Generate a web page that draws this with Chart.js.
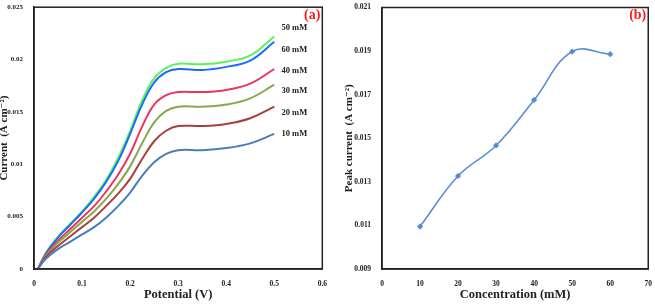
<html>
  <head>
    <script src="https://cdn.jsdelivr.net/npm/chart.js@4.4.0/dist/chart.umd.min.js"></script>
    <style>
      body { margin: 0; background: #fff; }
      .panel { position: absolute; top: 0; }
    </style>
  </head>
  <body>
    <div class="panel" style="left: 0"><canvas id="cvA" width="330" height="305"></canvas></div>
    <div class="panel" style="left: 330px"><canvas id="cvB" width="325" height="305"></canvas></div>
    <script>
      // panel (a): current vs potential
      var potential = [0.008, 0.025, 0.05, 0.075, 0.1, 0.125, 0.15, 0.175, 0.2, 0.225, 0.25, 0.275, 0.3, 0.35, 0.4, 0.45, 0.5];
      var cur10 = [0, 1.0, 1.9, 2.6, 3.3, 4.0, 4.9, 6.0, 7.3, 8.9, 10.2, 11.0, 11.35, 11.35, 11.55, 12.0, 12.9];
      var cur20 = [0, 1.15, 2.2, 3.1, 4.0, 4.9, 6.0, 7.2, 8.6, 10.5, 12.2, 13.2, 13.65, 13.65, 13.85, 14.4, 15.5];
      var cur30 = [0, 1.25, 2.5, 3.5, 4.5, 5.5, 6.7, 8.1, 9.8, 12.0, 14.0, 15.1, 15.5, 15.5, 15.7, 16.3, 17.6];
      var cur40 = [0, 1.35, 2.7, 3.8, 4.9, 6.0, 7.4, 9.0, 11.0, 13.6, 15.7, 16.6, 16.9, 16.9, 17.1, 17.7, 19.1];
      var cur60 = [0, 1.5, 3.0, 4.2, 5.4, 6.7, 8.3, 10.3, 12.9, 15.7, 17.8, 18.8, 19.1, 19.0, 19.3, 19.9, 21.7];
      var cur50 = [0, 1.55, 3.1, 4.3, 5.5, 6.9, 8.5, 10.6, 13.2, 16.1, 18.2, 19.2, 19.6, 19.55, 19.8, 20.4, 22.2];
      var seriesNames = ['10 mM', '20 mM', '30 mM', '40 mM', '60 mM', '50 mM'];
      var seriesColors = ['#4a7dbd', '#a8403e', '#87a94b', '#ee3462', '#1b6bff', '#5cf25c'];
      // label anchors (in data units) for the series names on the right
      var labelX = 0.515;
      var labelY = [0.0129, 0.0149, 0.0170, 0.0189, 0.0209, 0.0230];
      var xTicksA = ['0', '0.1', '0.2', '0.3', '0.4', '0.5', '0.6'];
      var yTicksA = ['0', '0.005', '0.01', '0.015', '0.02', '0.025'];

      // panel (b): peak current vs concentration
      var conc = [10, 20, 30, 40, 50, 60];
      var peak = [0.01095, 0.01327, 0.01467, 0.01676, 0.01898, 0.01886];
      var xTicksB = ['0', '10', '20', '30', '40', '50', '60', '70'];
      var yTicksB = ['0.009', '0.011', '0.013', '0.015', '0.017', '0.019', '0.021'];

      var SERIF = "'Liberation Serif', 'DejaVu Serif', serif";

      var framePlugin = {
        id: 'frame',
        afterDraw: function(chart) {
          var a = chart.chartArea, ctx = chart.ctx;
          ctx.save();
          ctx.strokeStyle = '#222';
          ctx.lineWidth = 1.5;
          ctx.strokeRect(a.left, a.top, a.right - a.left, a.bottom - a.top);
          var tag = chart.options.plugins.frame.tag;
          ctx.fillStyle = '#ff1a1a';
          ctx.font = 'bold 14px ' + SERIF;
          ctx.textAlign = 'right';
          ctx.textBaseline = 'top';
          ctx.fillText(tag, a.right - 2, a.top + 1);
          ctx.restore();
        }
      };

      var seriesLabels = {
        id: 'seriesLabels',
        afterDatasetsDraw: function(chart) {
          var ctx = chart.ctx, xs = chart.scales.x, ys = chart.scales.y;
          ctx.save();
          ctx.fillStyle = '#222';
          ctx.font = 'bold 8.5px ' + SERIF;
          ctx.textAlign = 'left';
          ctx.textBaseline = 'middle';
          seriesNames.forEach(function(n, i) {
            ctx.fillText(n, xs.getPixelForValue(labelX), ys.getPixelForValue(labelY[i]));
          });
          ctx.restore();
        }
      };

      function axis(min, max, step, labels, title, fitSize, isY, titlePad, tickSize) {
        return {
          type: 'linear', min: min, max: max,
          grid: { display: false },
          border: { display: true, color: '#222', width: 1.5 },
          ticks: {
            stepSize: step, font: { family: SERIF, size: tickSize, weight: 'bold' },
            color: '#222', padding: 3, maxRotation: 0, autoSkip: false,
            callback: function(v, i) { return labels[i]; }
          },
          title: {
            display: true, text: title, color: '#222',
            font: { family: SERIF, size: isY ? 11 : 12.5, weight: 'bold' },
            padding: titlePad
          },
          afterFit: function(s) { if (isY) s.width = fitSize; else s.height = fitSize; }
        };
      }

      new Chart(document.getElementById('cvA'), {
        type: 'line',
        data: {
          datasets: [cur10, cur20, cur30, cur40, cur60, cur50].map(function(arr, i) {
            return {
              label: seriesNames[i],
              data: arr.map(function(v, j) { return { x: potential[j], y: v / 1000 }; }),
              borderColor: seriesColors[i],
              borderWidth: 2,
              pointRadius: 0,
              tension: 0.4
            };
          })
        },
        options: {
          responsive: false, animation: false,
          layout: { padding: { top: 5, right: 5, left: 0, bottom: 0 } },
          plugins: { legend: { display: false }, tooltip: { enabled: false }, frame: { tag: '(a)' } },
          scales: {
            x: axis(0, 0.6, 0.1, xTicksA, 'Potential (V)', 36, false, { top: 4, bottom: 3 }, 7.5),
            y: axis(0, 0.025, 0.005, yTicksA, 'Current  (A cm\u207B\u00B2)', 34, true, { top: -2, bottom: 0 }, 7)
          }
        },
        plugins: [framePlugin, seriesLabels]
      });

      new Chart(document.getElementById('cvB'), {
        type: 'line',
        data: {
          datasets: [{
            data: conc.map(function(c, j) { return { x: c, y: peak[j] }; }),
            borderColor: '#5b8fd3',
            backgroundColor: '#4a7dbd',
            borderWidth: 1.6,
            pointRadius: 2,
            pointStyle: 'rectRot',
            tension: 0.4
          }]
        },
        options: {
          responsive: false, animation: false,
          layout: { padding: { top: 5, right: 3, left: 0, bottom: 0 } },
          plugins: { legend: { display: false }, tooltip: { enabled: false }, frame: { tag: '(b)' } },
          scales: {
            x: axis(0, 70, 10, xTicksB, 'Concentration (mM)', 36, false, { top: 4, bottom: 3 }, 7.5),
            y: axis(0.009, 0.021, 0.002, yTicksB, 'Peak current  (A cm\u207B\u00B2)', 52, true, { top: 13, bottom: 0 }, 7.5)
          }
        },
        plugins: [framePlugin]
      });
    </script>
  </body>
</html>
